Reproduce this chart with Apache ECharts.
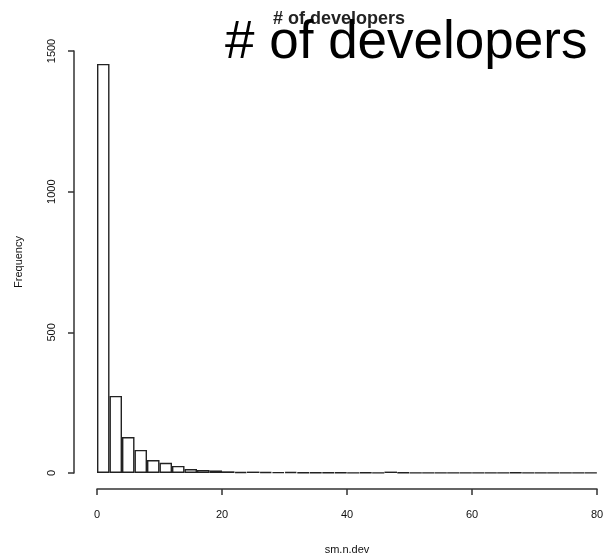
<!DOCTYPE html>
<html>
<head>
<meta charset="utf-8">
<script src="https://cdn.jsdelivr.net/npm/echarts@6/dist/echarts.min.js"></script>
<style>
html,body{margin:0;padding:0;background:#fff;}
#chart{width:608px;height:560px;}
</style>
</head>
<body>
<div id="chart"></div>
<script>
// Histogram bins (start of each 2-wide bin) and frequencies
const binStarts = [0,2,4,6,8,10,12,14,16,18,20,22,24,26,28,30,32,34,36,38,40,42,44,46,48,50,52,54,56,58,60,62,64,66,68,70,72,74,76,78];
const frequencies = [1454,274,128,82,46,36,25,14,11,9,6,4,5,4,3,4,2,2,2,2,1,2,1,5,2,1,1,1,1,1,1,1,1,2,1,1,1,1,1,1];
const xTicks = [0,20,40,60,80];
const yTicks = [0,500,1000,1500];
const titleSmall = '# of developers';
const titleBig = '# of developers';
const xName = 'sm.n.dev';
const yName = 'Frequency';

const chart = echarts.init(document.getElementById('chart'), null, {renderer:'canvas'});
const axisColor = '#333';
const font = 'Liberation Sans, Arial, sans-serif';

chart.setOption({
  animation: false,
  backgroundColor: '#fff',
  title: [
    {text: titleSmall, left: 268, top: 5,
     textStyle:{fontFamily: font, fontWeight:'bold', fontSize:18, color:'#222'}},
    {text: titleBig, left: 220, top: 12,
     textStyle:{fontFamily: font, fontWeight:'normal', fontSize:53, color:'#000'}}
  ],
  grid: [
    {left: 97, width: 500, top: 51, height: 422},   // data
    {left: 97, width: 500, top: 51, height: 439},   // x axis
    {left: 74, width: 10, top: 51, height: 422}     // y axis
  ],
  xAxis: [
    {gridIndex:0, type:'category', data: binStarts, boundaryGap:true, show:false},
    {gridIndex:1, type:'value', min: xTicks[0], max: xTicks[xTicks.length-1], interval: 20,
     axisLine:{show:true, lineStyle:{color:axisColor, width:1.5}},
     axisTick:{show:true, length:6, lineStyle:{color:axisColor, width:1.5}},
     axisLabel:{margin: 20, fontFamily: font, fontSize: 11, color:'#111'},
     splitLine:{show:false},
     name: xName, nameLocation:'middle', nameGap: 55,
     nameTextStyle:{fontFamily: font, fontSize: 11, color:'#111'}},
    {gridIndex:2, type:'value', show:false}
  ],
  yAxis: [
    {gridIndex:0, type:'value', min:0, max:1500, show:false},
    {gridIndex:1, type:'value', show:false},
    {gridIndex:2, type:'value', min: yTicks[0], max: yTicks[yTicks.length-1], interval: 500,
     position:'left',
     axisLine:{show:true, lineStyle:{color:axisColor, width:1.5}},
     axisTick:{show:true, length:6, lineStyle:{color:axisColor, width:1.5}},
     axisLabel:{margin: 17, rotate: 90, fontFamily: font, fontSize: 11, color:'#111',
                formatter: v => String(v)},
     splitLine:{show:false},
     name: yName, nameLocation:'middle', nameGap: 50,
     nameTextStyle:{fontFamily: font, fontSize: 11, color:'#111'}}
  ],
  series: [{
    type:'bar',
    xAxisIndex:0, yAxisIndex:0,
    data: frequencies,
    barWidth:'100%',
    barCategoryGap:'0%',
    itemStyle:{color:'#fff', borderColor:'#222', borderWidth:1.4}
  }]
});
</script>
</body>
</html>
